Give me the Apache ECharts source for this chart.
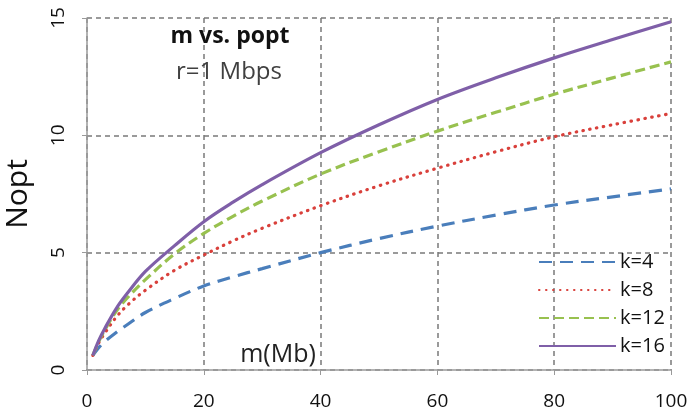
<!DOCTYPE html>
<html>
<head>
<meta charset="utf-8">
<script src="https://cdn.jsdelivr.net/npm/echarts@6/dist/echarts.min.js"></script>
<style>html,body{margin:0;padding:0;background:#fff}#c{width:687px;height:412px}</style>
</head>
<body>
<div id="c"></div>
<script>
const m = [1, 2, 3, 5, 7, 10, 15, 20, 25, 30, 40, 50, 60, 70, 80, 90, 100];
const k4  = [0.62, 0.95, 1.2, 1.6, 1.95, 2.45, 3.05, 3.58, 3.97, 4.32, 5.0, 5.6, 6.13, 6.6, 7.03, 7.38, 7.72];
const k8  = [0.62, 1.15, 1.55, 2.25, 2.78, 3.4, 4.25, 4.9, 5.5, 6.04, 7.0, 7.85, 8.6, 9.3, 9.94, 10.45, 10.93];
const k12 = [0.62, 1.2, 1.68, 2.5, 3.1, 3.85, 4.95, 5.82, 6.55, 7.2, 8.35, 9.3, 10.18, 10.98, 11.75, 12.45, 13.13];
const k16 = [0.62, 1.25, 1.75, 2.62, 3.3, 4.2, 5.3, 6.32, 7.15, 7.9, 9.26, 10.45, 11.53, 12.45, 13.3, 14.08, 14.84];
const seriesNames = ['k=4', 'k=8', 'k=12', 'k=16'];
const xTicks = [0, 20, 40, 60, 80, 100];
const yTicks = [0, 5, 10, 15];
const titleText = 'm vs. popt';
const subText = 'r=1 Mbps';
const xName = 'm(Mb)';
const yName = 'Nopt';

const font = '"Open Sans", Lato, sans-serif';
const pairs = arr => m.map((x, i) => [x, arr[i]]);
const styles = [
  {color: '#4a7ebb', type: [13, 8], cap: 'butt'},
  {color: '#d9403b', type: [0.5, 6.5], cap: 'round'},
  {color: '#98c14f', type: [10, 5], cap: 'butt'},
  {color: '#7f5fa8', type: 'solid', cap: 'butt'}
];
const data = [k4, k8, k12, k16];

const chart = echarts.init(document.getElementById('c'), null, {renderer: 'canvas'});
chart.setOption({
  animation: false,
  backgroundColor: '#fff',
  grid: {left: 87, right: 16, top: 18, bottom: 42, containLabel: false, outerBoundsMode: 'none'},
  title: [
    {text: titleText, left: 225, top: 20, textAlign: 'center',
     textStyle: {fontFamily: font, fontSize: 23, fontWeight: 'bold', color: '#111'}},
    {text: subText, left: 224, top: 55, textAlign: 'center',
     textStyle: {fontFamily: font, fontSize: 24, fontWeight: 'normal', color: '#404040'}},
    {text: xName, left: 273, top: 337, textAlign: 'center',
     textStyle: {fontFamily: font, fontSize: 25, fontWeight: 'normal', color: '#222'}}
  ],
  legend: {
    orient: 'vertical', left: 533, top: 247,
    itemWidth: 77, itemHeight: 14, itemGap: 8,
    data: seriesNames,
    itemStyle: {opacity: 0},
    textStyle: {fontFamily: font, fontSize: 20, color: '#111', padding: [0, 0, 0, -1]}
  },
  xAxis: {
    type: 'value', min: 0, max: 100, interval: 20,
    axisLine: {show: true, lineStyle: {color: '#9a9a9a', width: 1.5}},
    axisTick: {show: true, length: 5, lineStyle: {color: '#9a9a9a'}},
    splitLine: {show: true, lineStyle: {color: '#7a7a7a', type: [5, 4], width: 1.5}},
    axisLabel: {fontFamily: font, fontSize: 19, color: '#111', margin: 22,
      formatter: v => xTicks.includes(v) ? String(v) : ''}
  },
  yAxis: {
    type: 'value', min: 0, max: 15, interval: 5,
    name: yName, nameLocation: 'middle', nameGap: 54,
    nameTextStyle: {fontFamily: font, fontSize: 30, color: '#111'},
    axisLine: {show: true, lineStyle: {color: '#9a9a9a', width: 1.5}},
    axisTick: {show: true, length: 5, lineStyle: {color: '#9a9a9a'}},
    splitLine: {show: true, lineStyle: {color: '#7a7a7a', type: [5, 4], width: 1.5}},
    axisLabel: {fontFamily: font, fontSize: 19, color: '#111', rotate: 90, margin: 19,
      formatter: v => yTicks.includes(v) ? String(v) : ''}
  },
  series: data.map((arr, i) => ({
    name: seriesNames[i], type: 'line', smooth: 0.35, showSymbol: false, symbol: 'none',
    data: pairs(arr),
    lineStyle: {color: styles[i].color, width: 3.2, type: styles[i].type, cap: styles[i].cap},
    itemStyle: {color: styles[i].color}
  }))
});
</script>
</body>
</html>
